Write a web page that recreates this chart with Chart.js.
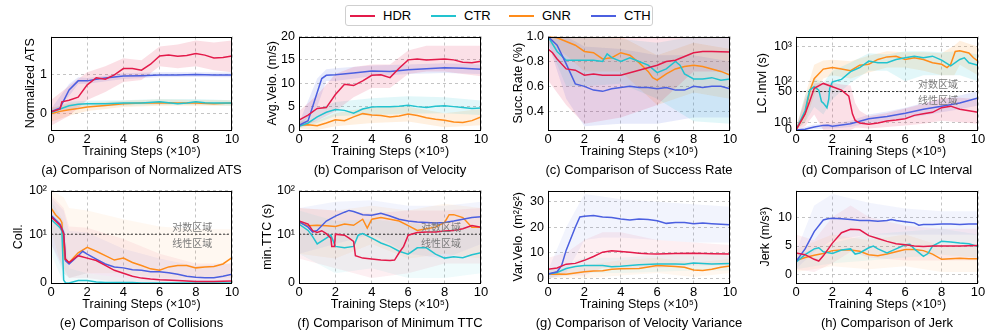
<!DOCTYPE html>
<html lang="en">
<head>
  <meta charset="UTF-8">
  <title>Training curves</title>
  <script src="https://cdn.jsdelivr.net/npm/chart.js"></script>
  <style>
    body { margin: 0; background: #fff; font-family: 'Liberation Sans', Arial, sans-serif; }
    #wrap { position: relative; width: 997px; height: 332px; overflow: hidden; }
    canvas { position: absolute; }
    .cap { position: absolute; width: 300px; text-align: center; font-size: 13px; color: #000; line-height: 16px; white-space: nowrap; }
    #legend { position: absolute; left: 345px; top: 5px; width: 306px; height: 19px; border: 1px solid #cfcfcf; border-radius: 3px; background: #fff; }
    .item { position: absolute; top: 2px; font-size: 13px; line-height: 15px; white-space: nowrap; }
    .sw { display: inline-block; width: 25px; height: 2px; vertical-align: middle; margin-right: 8px; margin-top: -2px; }
  </style>
</head>
<body>
<div id="wrap"><div id="legend"></div></div>
<script>
const methods = ['HDR', 'CTR', 'GNR', 'CTH'];
const lineColors = ['#E31A4A', '#22C3CF', '#FF8C1A', '#4B5FE0'];
const xTicks = [0, 2, 4, 6, 8, 10];
const regionLabels = ['对数区域', '线性区域'];

// (a) normalized ATS  [x, y]  /  bands [x, lo, hi]
const atsHDR = [[0,0.05],[0.5,0.12],[0.6,0.3],[1,0.34],[1.5,0.42],[2,0.73],[2.5,0.91],[3,0.87],[3.5,0.98],[4,1.14],[4.5,1.14],[5,1.10],[5.5,1.25],[6,1.46],[6.5,1.48],[7,1.45],[7.5,1.47],[8,1.52],[8.5,1.48],[9,1.41],[9.5,1.42],[10,1.46]];
const atsCTR = [[0,0.03],[0.5,0.12],[1,0.2],[1.5,0.24],[2,0.25],[3,0.25],[4,0.27],[5,0.27],[6,0.3],[6.5,0.28],[7,0.25],[7.5,0.27],[8,0.3],[8.5,0.28],[9,0.27],[10,0.27]];
const atsGNR = [[0,0.0],[0.5,0.06],[1,0.1],[1.5,0.13],[2,0.17],[3,0.21],[4,0.25],[5,0.27],[6,0.28],[7,0.27],[8,0.27],[9,0.25],[10,0.27]];
const atsCTH = [[0,0.05],[0.5,0.15],[1,0.6],[1.5,0.83],[2,0.83],[2.5,0.87],[3,0.9],[4,0.95],[5,0.96],[6,0.98],[7,0.98],[8,0.99],[9,0.98],[10,0.98]];
const atsBandHDR = [[0,-0.3,0.35],[1,-0.05,0.7],[2,0.35,1.05],[3,0.55,1.2],[4,0.8,1.4],[5,0.85,1.35],[6,1.2,1.7],[7,1.15,1.75],[8,1.2,1.85],[9,1.1,1.8],[10,1.05,1.85]];
const atsBandCTR = [[0,-0.05,0.1],[1,0.12,0.3],[2,0.18,0.33],[4,0.2,0.34],[6,0.23,0.37],[8,0.23,0.37],[10,0.2,0.34]];
const atsBandGNR = [[0,-0.2,0.15],[1,-0.05,0.25],[2,0.07,0.27],[4,0.17,0.33],[6,0.2,0.36],[8,0.2,0.35],[10,0.2,0.34]];
const atsBandCTH = [[0,-0.02,0.12],[1,0.45,0.75],[1.5,0.75,0.92],[2,0.76,0.9],[4,0.88,1.02],[6,0.92,1.05],[8,0.93,1.05],[10,0.92,1.04]];

// (b) average velocity
const velHDR = [[0,2.1],[0.5,3.2],[1,4.6],[1.5,4.8],[2,7.6],[2.5,9.8],[3,9.5],[3.5,10.5],[4,11.7],[4.5,11.8],[5,11.2],[5.5,13.2],[6,15.0],[6.5,15.2],[7,15.0],[7.5,15.1],[8,15.2],[8.5,15.0],[9,14.5],[9.5,14.4],[10,14.7]];
const velCTR = [[0,0.8],[0.5,1.5],[1,2.8],[1.5,3.8],[2,4.4],[2.5,4.2],[3,3.6],[3.5,4.5],[4,4.9],[4.5,5.0],[5,5.0],[5.5,5.1],[6,5.3],[6.5,5.0],[7,4.8],[7.5,5.1],[8,5.2],[8.5,5.0],[9,4.8],[9.5,4.6],[10,4.7]];
const velGNR = [[0,1.0],[0.5,1.1],[1,0.9],[1.5,1.5],[2,2.2],[2.5,2.0],[3,2.8],[3.5,3.5],[4,3.2],[4.5,3.1],[5,2.8],[5.5,3.0],[6,3.4],[6.5,3.1],[7,2.6],[7.5,2.3],[8,2.1],[8.5,1.7],[9,1.6],[9.5,2.0],[10,2.8]];
const velCTH = [[0,1.0],[0.5,2.0],[1,8.0],[1.25,11.0],[1.5,11.7],[2,11.8],[3,12.2],[4,12.6],[5,12.5],[6,12.9],[7,13.1],[8,13.3],[9,13.2],[10,13.0]];
const velBandHDR = [[0,0.5,4],[1,2,7.5],[2,4,12],[3,7,13.5],[4,9,14],[5,9,14],[6,12,17],[7,12.5,18],[8,12.5,18],[9,12,18],[10,11.5,18]];
const velBandCTR = [[0,0.3,1.5],[1,1.5,4.5],[2,3,6],[4,3.2,6.8],[6,3.5,7.2],[8,3.6,7],[10,3.2,6.3]];
const velBandGNR = [[0,0.3,1.8],[1,0,2],[2,0.8,3.6],[4,1.5,5],[6,1.8,5],[8,0.6,3.6],[10,1,4.5]];
const velBandCTH = [[0,0.5,1.5],[1,5,11],[1.5,10.5,13],[2,10.5,13.2],[4,11.5,13.8],[6,12,14],[8,12.2,14.3],[10,12,14]];

// (c) success rate
const sucHDR = [[0,0.9],[0.25,0.87],[0.5,0.82],[1,0.74],[1.5,0.73],[2,0.69],[2.5,0.70],[3,0.69],[3.5,0.69],[4,0.69],[4.5,0.71],[5,0.73],[5.5,0.75],[6,0.77],[6.5,0.8],[7,0.81],[7.5,0.84],[8,0.87],[8.5,0.88],[9,0.88],[10,0.875]];
const sucCTR = [[0,1.0],[0.5,0.88],[1,0.81],[1.5,0.81],[2,0.81],[2.5,0.81],[3,0.8],[3.25,0.86],[3.5,0.83],[4,0.8],[4.5,0.83],[5,0.8],[5.5,0.77],[6,0.71],[6.5,0.74],[7,0.8],[7.25,0.77],[7.5,0.7],[8,0.66],[8.5,0.66],[9,0.67],[9.5,0.65],[10,0.66]];
const sucGNR = [[0,1.0],[0.5,0.99],[1,0.96],[1.5,0.93],[2,0.88],[2.5,0.87],[3,0.82],[3.5,0.83],[4,0.87],[4.5,0.85],[5,0.79],[5.5,0.72],[5.75,0.67],[6,0.65],[6.5,0.7],[7,0.74],[7.5,0.76],[8,0.77],[8.5,0.76],[9,0.74],[9.5,0.72],[10,0.69]];
const sucCTH = [[0,1.0],[0.5,0.93],[1,0.78],[1.5,0.62],[2,0.6],[2.5,0.57],[3,0.56],[3.5,0.58],[4,0.59],[4.5,0.6],[5,0.59],[5.5,0.59],[6,0.58],[6.5,0.59],[7,0.57],[7.5,0.57],[8,0.6],[8.5,0.59],[9,0.6],[9.5,0.6],[10,0.58]];
const sucBandHDR = [[0,0.65,1.0],[1,0.45,1.0],[2,0.3,1.0],[4,0.35,1.0],[6,0.45,1.0],[8,0.72,1.0],[10,0.72,1.0]];
const sucBandCTR = [[0,0.95,1.0],[1,0.6,1.0],[2,0.6,1.0],[4,0.62,0.98],[6,0.5,0.95],[8,0.32,1.0],[10,0.3,1.0]];
const sucBandGNR = [[0,0.95,1.0],[1,0.85,1.0],[2,0.72,1.0],[4,0.72,1.0],[6,0.45,0.85],[8,0.55,0.95],[10,0.5,0.9]];
const sucBandCTH = [[0,0.95,1.0],[1,0.5,1.0],[2,0.28,0.92],[4,0.3,0.9],[6,0.3,0.85],[8,0.35,0.85],[10,0.35,0.8]];

// (d) lane change interval (symlog, linear below 50)
const lcHDR = [[0,0],[0.5,21],[0.75,37],[1,62],[1.5,86],[2,69],[2.5,55],[2.9,44],[3.1,21],[3.25,12.5],[3.5,9],[4,7.5],[4.5,9],[5,11.7],[5.5,13],[6,14.6],[6.5,19],[7,21],[7.5,23],[8,29],[8.5,31],[9,27],[9.5,25],[10,23]];
const lcCTR = [[0,0],[0.5,25],[0.75,55],[1,69],[1.25,55],[1.4,37],[1.5,35],[1.7,29],[1.8,40],[1.85,62],[2,95],[2.5,113],[3,190],[3.5,250],[4,385],[4.5,345],[5,345],[5.5,430],[6,480],[6.5,535],[7,480],[7.5,535],[8,410],[8.5,280],[9,430],[9.25,480],[9.5,345],[10,292]];
const lcGNR = [[0,0],[0.5,21],[0.75,50],[1,118],[1.5,225],[2,250],[2.5,225],[3,203],[3.5,292],[4,311],[4.5,430],[5,510],[5.5,535],[6,430],[6.5,480],[7,430],[7.5,345],[8,311],[8.3,250],[8.5,311],[8.75,735],[9,770],[9.5,660],[9.75,480],[10,385]];
const lcCTH = [[0,0],[0.5,1],[1,4],[1.5,6],[1.75,6.3],[2,5],[3,8],[4,14.6],[5,17.5],[6,21.7],[7,27],[8,31],[9,35],[10,41.7]];
const lcBandHDR = [[0,0,2],[0.5,5,40],[1,20,85],[1.5,0,92],[2,0,90],[2.5,0,80],[3,0,75],[3.25,3,35],[3.5,3,25],[4,2,18],[5,4,22],[6,6,28],[7,8,34],[8,12,42],[9,10,42],[10,8,40]];
const lcBandCTR = [[0,0,2],[0.5,10,45],[1,30,120],[1.5,20,90],[2,40,200],[3,90,350],[4,200,650],[5,200,600],[6,100,750],[7,150,750],[8,150,700],[9,150,750],[10,100,600]];
const lcBandGNR = [[0,0,2],[0.5,10,45],[1,45,300],[1.5,120,400],[2,150,420],[3,120,380],[4,180,550],[5,250,750],[6,250,700],[7,200,700],[8,150,650],[8.7,150,1100],[9,300,1500],[10,150,1000]];
const lcBandCTH = [[0,0,1],[1,1,7],[2,2,8],[3,4,12],[4,9,20],[5,12,24],[6,15,29],[7,19,35],[8,23,40],[9,27,45],[10,32,52]];

// (e) collisions (symlog, linear below 10)
const colHDR = [[0,25],[0.5,16],[0.7,10.3],[0.8,4.9],[1,4.2],[1.5,5.6],[2,5.1],[2.5,4.6],[3,3.6],[3.5,2.6],[4,2.0],[4.5,1.4],[5,1.0],[5.5,0.8],[6,0.65],[7,0.5],[8,0.3],[9,0.3],[10,0.4]];
const colCTR = [[0,22],[0.5,14],[0.6,12],[0.7,0.6],[0.8,0.05],[1,0],[1.5,0.5],[2,0.5],[2.5,0.2],[3,0.1],[4.5,0.1],[5,0],[10,0]];
const colGNR = [[0,40],[0.25,28],[0.5,22],[0.6,18.6],[0.75,4.9],[1,4.2],[1.5,6.2],[2,7.3],[2.5,6.5],[3,5.6],[3.5,4.7],[4,5.1],[4.5,4.2],[5,3.6],[5.5,2.9],[6,2.6],[6.5,3.3],[7,3.6],[7.5,3.6],[8,3.1],[8.5,3.3],[9,3.4],[9.5,3.9],[10,5.2]];
const colCTH = [[0,27],[0.5,17],[0.7,11],[0.8,4.6],[1,3.9],[1.5,5.6],[1.75,6.5],[2,5.9],[2.5,4.9],[3,3.9],[3.5,3.3],[4,3.1],[4.5,2.7],[5,2.6],[5.5,2.3],[6,2.3],[6.5,2.1],[7,1.8],[7.5,1.4],[8,1.2],[8.5,1.1],[9,1.1],[9.5,1.4],[10,1.8]];
const colBandHDR = [[0,8,80],[0.7,3,40],[1,1,15],[2,1,14],[4,0,9],[6,0,6],[8,0,4],[10,0,4]];
const colBandCTR = [[0,6,60],[0.7,0,20],[1,0,3],[2,0,2],[4,0,1],[10,0,0.5]];
const colBandGNR = [[0,12,100],[0.7,2,70],[1,1,40],[2,2,35],[4,2,22],[6,1,15],[8,1,13],[10,1,13]];
const colBandCTH = [[0,8,70],[0.7,2,35],[1,1,12],[2,2,11],[4,1,7],[6,0.5,5],[8,0,3.5],[10,0.5,4]];

// (f) minimum TTC (symlog, linear below 10)
const ttcHDR = [[0,20],[0.5,17],[0.75,12],[1,11],[1.25,12],[1.5,10.3],[1.75,9.2],[1.8,7.5],[1.95,7.5],[2,10],[2.5,9.8],[2.75,9.2],[3,8.5],[3.1,5.6],[3.5,5.1],[4,4.9],[4.5,4.7],[5,4.6],[5.25,4.7],[5.5,6.2],[5.75,7.5],[6,9.8],[6.5,10.9],[7,11.2],[7.5,11.2],[8,11.8],[8.5,12.2],[9,13.3],[9.5,15.7],[10,14.5]];
const ttcCTR = [[0,17],[0.5,12.2],[0.75,9.5],[1,8.0],[1.5,9.2],[1.75,9.8],[2,7.5],[2.5,7.2],[3,7.5],[3.25,9.8],[3.5,10.3],[4,9.2],[4.5,8.2],[5,7.5],[5.5,6.5],[6,5.9],[6.5,7.2],[7,7.2],[7.5,5.9],[8,5.1],[8.5,5.4],[9,5.2],[9.5,5.8],[10,6.2]];
const ttcGNR = [[0,18.6],[0.5,15.7],[1,16],[1.5,15.7],[2,15],[2.5,17],[3,16],[3.5,22],[3.75,13.8],[4,22],[4.5,24],[5,22],[5.5,20],[6,15.7],[6.5,12.2],[7,13.3],[7.5,14.5],[8,18.6],[8.25,28],[8.5,28],[9,24],[9.5,14.5],[10,14.5]];
const ttcCTH = [[0,19.3],[0.5,14.5],[0.75,11.2],[1,12.2],[1.5,20],[2,26],[2.5,31.9],[2.75,35],[3,33],[3.5,28],[4,27],[4.5,30],[5,26],[5.5,22],[6,20],[6.5,19],[7,18.6],[7.5,18],[8,18.6],[8.5,20],[9,22],[9.5,24],[10,25]];
const ttcBandHDR = [[0,5,40],[2,3,35],[4,1,30],[6,2,35],[8,4,35],[10,4,40]];
const ttcBandCTR = [[0,6,35],[2,2,20],[4,3,22],[6,1,18],[8,1,15],[10,2,15]];
const ttcBandGNR = [[0,6,40],[2,5,35],[4,8,45],[6,5,35],[8,6,50],[10,5,40]];
const ttcBandCTH = [[0,6,40],[2,8,55],[4,10,60],[6,6,45],[8,5,45],[10,8,55]];

// (g) velocity variance
const varHDR = [[0,3.5],[0.5,4.0],[1,5.5],[1.5,5.8],[2,7.0],[2.5,8.5],[3,10.2],[3.5,10.8],[4,10.5],[4.5,10.2],[5,9.8],[5.5,9.6],[6,9.5],[7,9.7],[8,9.8],[9,9.6],[10,9.5]];
const varCTR = [[0,1.6],[0.5,2.2],[1,3.8],[1.5,4.6],[2,5.0],[3,5.0],[3.5,4.5],[4,4.7],[5,5.3],[6,5.6],[7,5.6],[7.5,5.5],[8,5.9],[9,5.6],[10,5.8]];
const varGNR = [[0,1.5],[0.5,1.6],[1,1.5],[1.5,2.0],[2,2.5],[2.5,2.8],[3,2.9],[3.5,3.5],[4,3.7],[5,3.8],[6,5.0],[7,4.6],[7.5,4.3],[8,3.2],[8.5,3.0],[9,3.5],[9.5,4.3],[10,4.8]];
const varCTH = [[0,1.6],[0.5,2.5],[0.75,5],[1,11],[1.5,20],[1.75,24],[2,24.3],[2.5,24.6],[3,24],[3.5,23.8],[4,23.2],[4.5,22.8],[5,23.2],[5.5,23.0],[6,22.5],[6.5,21.5],[7,21.8],[7.5,21.8],[8,21.4],[8.5,21.6],[9,21.4],[9.5,21.2],[10,21.0]];
const varBandHDR = [[0,0,8],[1,1,10],[2,1,15],[3,4,18],[4,4,18],[6,4,15],[8,5,14],[10,5,13]];
const varBandCTR = [[0,0,3],[2,2,8],[4,2,8],[6,2.5,9],[8,3,9],[10,3,9]];
const varBandGNR = [[0,0,3],[2,0,5],[4,1,7],[6,2,8],[8,0.5,6],[10,2,7.5]];
const varBandCTH = [[0,0,3],[1,2,20],[2,15,33],[3,16,32],[4,16,31],[6,15,30],[8,14,29],[10,14,28]];

// (h) jerk
const jrkHDR = [[0,3.8],[0.5,3.5],[1,2.7],[1.25,2.4],[1.5,3.3],[2,5.5],[2.5,7.3],[3,7.9],[3.5,7.8],[4,6.8],[4.5,6.3],[5,5.8],[5.5,5.4],[6,5.2],[6.5,5.0],[7,4.9],[7.5,5.0],[8,5.0],[8.5,5.0],[9,5.0],[10,5.1]];
const jrkCTR = [[0,2.2],[0.5,3.5],[1,4.5],[1.25,4.7],[1.5,4.0],[2,3.7],[2.5,4.3],[3,4.5],[3.25,3.6],[3.5,3.8],[4,4.7],[4.25,5.0],[4.5,4.5],[5,3.8],[5.5,4.5],[6,5.2],[6.25,5.3],[6.5,4.5],[7,3.2],[7.25,3.7],[7.5,5.0],[8,5.8],[8.5,5.7],[9,5.5],[9.5,5.4],[10,4.9]];
const jrkGNR = [[0,2.5],[0.5,3.0],[1,3.4],[1.5,3.7],[2,4.2],[2.5,4.3],[3,4.3],[3.5,4.1],[4,3.5],[4.5,3.3],[5,3.6],[5.5,4.0],[6,4.4],[6.5,4.4],[7,4.2],[7.5,3.6],[8,2.7],[8.5,2.8],[9,2.9],[9.5,2.8],[10,2.8]];
const jrkCTH = [[0,2.3],[0.5,4.5],[1,7.5],[1.5,9.5],[1.75,9.7],[2,9.8],[2.5,9.7],[3,9.6],[3.5,9.4],[4,9.4],[4.5,9.3],[5,9.4],[5.25,9.6],[5.5,9.4],[6,9.2],[6.5,9.0],[6.75,8.6],[7,8.7],[7.5,8.7],[8,8.8],[8.5,8.8],[9,8.7],[9.5,8.8],[10,8.8]];
const jrkBandHDR = [[0,1,7],[1,0.5,6],[2,2,10],[3,4,12],[4,3,10],[6,2.5,8.5],[8,2.5,8],[10,2.5,8]];
const jrkBandCTR = [[0,1,3.5],[2,2,5.5],[4,2.5,7],[6,3,7.5],[8,3.5,8],[10,3,7]];
const jrkBandGNR = [[0,0.5,4.5],[2,1.5,7],[4,1,6],[6,1.5,7],[8,0.5,5],[10,0.5,5]];
const jrkBandCTH = [[0,1,4],[1,4,12],[2,6,14],[4,7,12.5],[6,7,11.5],[8,7,11],[10,7,11]];

// symlog: linear below th (spanning linDec decades of height), log above
function symlog(th, linDec) {
  return v => v <= th ? linDec * v / th : linDec + Math.log10(v / th);
}
const ident = v => v;
const symD = symlog(50, 1.12);
const symE = symlog(10, 1.117);

Chart.defaults.font.family = "'Liberation Sans', Arial, sans-serif";
Chart.defaults.font.size = 12;
Chart.defaults.color = '#000';

const framePlugin = {
  id: 'frame',
  afterDatasetsDraw(chart) {
    const a = chart.chartArea, c = chart.ctx;
    c.save();
    c.strokeStyle = '#000';
    c.lineWidth = 1;
    c.strokeRect(Math.round(a.left) + 0.5, Math.round(a.top) + 0.5, Math.round(a.right - a.left) - 1, Math.round(a.bottom - a.top) - 1);
    c.restore();
  }
};

const regionPlugin = {
  id: 'region',
  afterDatasetsDraw(chart, args, opts) {
    if (opts.at === undefined) return;
    const c = chart.ctx;
    const px = chart.scales.x.getPixelForValue(opts.x);
    const py = chart.scales.y.getPixelForValue(opts.at);
    c.save();
    c.font = '10px "Noto Sans CJK SC"';
    c.fillStyle = '#7a7a7a';
    c.textAlign = 'center';
    c.textBaseline = 'middle';
    c.fillText(regionLabels[0], px, py - 7);
    c.fillText(regionLabels[1], px, py + 9);
    c.restore();
  }
};

// alpha: strength of the shaded spread
const panels = [
  { lines: [atsHDR, atsCTR, atsGNR, atsCTH], bands: [atsBandHDR, atsBandCTR, atsBandGNR, atsBandCTH], f: ident,
    yTitle: 'Normalized ATS', yMin: -0.41, yMax: 1.95, yTicks: [0, 1], yLabels: ['0', '1'],
    cap: '(a) Comparison of Normalized ATS', box: [51, 232, 33, 130], yW: 32, alpha: '24' },
  { lines: [velHDR, velCTR, velGNR, velCTH], bands: [velBandHDR, velBandCTR, velBandGNR, velBandCTH], f: ident,
    yTitle: 'Avg.Velo. (m/s)', yMin: 0, yMax: 20, yTicks: [0, 5, 10, 15, 20], yLabels: ['0', '5', '10', '15', '20'],
    cap: '(b) Comparison of Velocity', box: [299, 481, 33, 130], yW: 38, alpha: '22' },
  { lines: [sucHDR, sucCTR, sucGNR, sucCTH], bands: [sucBandHDR, sucBandCTR, sucBandGNR, sucBandCTH], f: ident,
    yTitle: 'Succ.Rate (%)', yMin: 0.25, yMax: 1.0, yTicks: [0.4, 0.6, 0.8, 1.0], yLabels: ['0.4', '0.6', '0.8', '1.0'],
    cap: '(c) Comparison of Success Rate', box: [548, 730, 33, 130], yW: 41, alpha: '22' },
  { lines: [lcHDR, lcCTR, lcGNR, lcCTH], bands: [lcBandHDR, lcBandCTR, lcBandGNR, lcBandCTH], f: symD,
    yTitle: 'LC.Intvl (s)', yMin: 0, yMax: 2000, yTicks: [0, 10, 50, 100, 1000], yLabels: ['0', '10¹', '50', '10²', '10³'],
    th: 50, cap: '(d) Comparison of LC Interval', box: [796, 978, 33, 130], yW: 45, alpha: '22' },
  { lines: [colHDR, colCTR, colGNR, colCTH], bands: [colBandHDR, colBandCTR, colBandGNR, colBandCTH], f: symE,
    yTitle: 'Coll.', yMin: 0, yMax: 100, yTicks: [0, 10, 100], yLabels: ['0', '10¹', '10²'],
    th: 10, cap: '(e) Comparison of Collisions', box: [51, 232, 187, 283], yW: 44, alpha: '10' },
  { lines: [ttcHDR, ttcCTR, ttcGNR, ttcCTH], bands: [ttcBandHDR, ttcBandCTR, ttcBandGNR, ttcBandCTH], f: symE,
    yTitle: 'min.TTC (s)', yMin: 0, yMax: 100, yTicks: [0, 10, 100], yLabels: ['0', '10¹', '10²'],
    th: 10, cap: '(f) Comparison of Minimum TTC', box: [299, 481, 187, 283], yW: 43, alpha: '12' },
  { lines: [varHDR, varCTR, varGNR, varCTH], bands: [varBandHDR, varBandCTR, varBandGNR, varBandCTH], f: ident,
    yTitle: 'Var.Velo. (m²/s²)', yMin: -1.9, yMax: 34.4, yTicks: [0, 10, 20, 30], yLabels: ['0', '10', '20', '30'],
    cap: '(g) Comparison of Velocity Variance', box: [548, 730, 187, 283], yW: 41, alpha: '12' },
  { lines: [jrkHDR, jrkCTR, jrkGNR, jrkCTH], bands: [jrkBandHDR, jrkBandCTR, jrkBandGNR, jrkBandCTH], f: ident,
    yTitle: 'Jerk (m/s³)', yMin: -1.4, yMax: 14.6, yTicks: [0, 5, 10], yLabels: ['0', '5', '10'],
    cap: '(h) Comparison of Jerk', box: [796, 978, 187, 283], yW: 42, alpha: '12' }
];

// draw order: HDR on top, then CTH, CTR, GNR
const lineOrder = [1, 3, 4, 2];
const padTop = 8, padRight = 10, xH = 33;
const wrap = document.getElementById('wrap');

panels.forEach(p => {
  const [pl, pr, pt, pb] = p.box;
  const cv = document.createElement('canvas');
  const left = pl - p.yW, top = pt - padTop;
  cv.width = pr + padRight - left;
  cv.height = pb + xH - top;
  cv.style.left = left + 'px';
  cv.style.top = top + 'px';
  wrap.appendChild(cv);

  const datasets = [];
  p.lines.forEach((arr, i) => {
    datasets.push({
      data: arr.map(q => ({ x: q[0], y: p.f(q[1]) })),
      borderColor: lineColors[i], borderWidth: 1.5, pointRadius: 0, fill: false, order: lineOrder[i]
    });
  });
  p.bands.forEach((arr, i) => {
    const lo = datasets.length;
    datasets.push({
      data: arr.map(q => ({ x: q[0], y: p.f(q[1]) })),
      borderWidth: 0, pointRadius: 0, fill: false, order: 20 + i
    });
    datasets.push({
      data: arr.map(q => ({ x: q[0], y: p.f(q[2]) })),
      borderWidth: 0, pointRadius: 0, fill: lo, backgroundColor: lineColors[i] + p.alpha, order: 20 + i
    });
  });
  if (p.th !== undefined) {
    datasets.push({
      data: [{ x: 0, y: p.f(p.th) }, { x: 10, y: p.f(p.th) }],
      borderColor: '#333', borderWidth: 1, borderDash: [2, 2], pointRadius: 0, fill: false, order: 10
    });
  }

  new Chart(cv, {
    type: 'line',
    data: { datasets },
    plugins: [framePlugin, regionPlugin],
    options: {
      responsive: false,
      animation: false,
      layout: { padding: { top: padTop, right: padRight, left: 0, bottom: 0 } },
      plugins: {
        legend: { display: false },
        tooltip: { enabled: false },
        region: p.th !== undefined ? { x: 7.8, at: p.f(p.th) } : {}
      },
      scales: {
        x: {
          type: 'linear', min: 0, max: 10,
          afterBuildTicks: s => { s.ticks = xTicks.map(v => ({ value: v })); },
          afterFit: s => { s.height = xH; },
          ticks: { padding: 2, maxRotation: 0, font: { size: 13 }, callback: v => String(v) },
          grid: { color: '#b5b5b5', lineWidth: 0.8, drawTicks: false },
          border: { display: false, dash: [3, 3] },
          title: { display: true, text: 'Training Steps (×10⁵)', font: { size: 12.5 }, padding: { top: 0, bottom: 4 } }
        },
        y: {
          type: 'linear', min: p.f(p.yMin), max: p.f(p.yMax),
          afterBuildTicks: s => { s.ticks = p.yTicks.map(v => ({ value: p.f(v) })); },
          afterFit: s => { s.width = p.yW; },
          ticks: { padding: 4, font: { size: 12.5 }, callback: (v, idx) => p.yLabels[idx] },
          grid: { color: '#b5b5b5', lineWidth: 0.8, drawTicks: false },
          border: { display: false, dash: [3, 3] },
          title: { display: true, text: p.yTitle, font: { size: 12.5 }, padding: { top: 4, bottom: 4 } }
        }
      }
    }
  });

  const cap = document.createElement('div');
  cap.className = 'cap';
  cap.textContent = p.cap;
  cap.style.left = ((pl + pr) / 2 - 150) + 'px';
  cap.style.top = (pt < 100 ? 162 : 315) + 'px';
  wrap.appendChild(cap);
});

// legend
const legend = document.getElementById('legend');
const legendX = [4, 85, 163, 245];
methods.forEach((m, i) => {
  const it = document.createElement('div');
  it.className = 'item';
  it.style.left = legendX[i] + 'px';
  it.innerHTML = '<span class="sw" style="background:' + lineColors[i] + '"></span>' + m;
  legend.appendChild(it);
});
</script>
</body>
</html>
